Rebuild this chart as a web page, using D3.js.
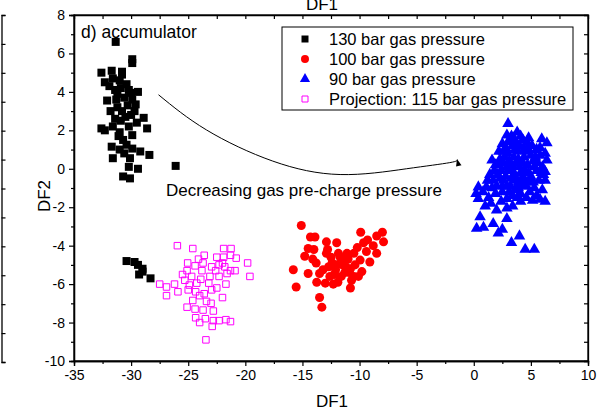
<!DOCTYPE html>
<html>
<head>
<meta charset="utf-8">
<script src="https://cdn.jsdelivr.net/npm/d3@7"></script>
<style>
  body { margin: 0; background: #fff; }
  text { font-family: "Liberation Sans", Arial, sans-serif; fill: #000; }
</style>
</head>
<body>
<script>
// chart data, [DF1, DF2]
const bar130 = [
  [-31.35, 6.6], [-29.9, 5.7], [-29.9, 5.5], [-32.6, 5.0], [-31.7, 5.1], [-30.8, 5.05],
  [-32.3, 4.5], [-31.6, 4.7], [-31.0, 4.6], [-30.8, 4.9], [-31.4, 4.1], [-30.2, 4.1],
  [-29.4, 4.0], [-30.9, 4.2], [-32.1, 3.55], [-31.3, 3.6], [-30.6, 3.7], [-29.9, 3.6],
  [-30.3, 3.3], [-31.8, 3.0], [-30.8, 3.0], [-29.7, 3.0], [-31.2, 3.2], [-30.0, 2.8],
  [-28.9, 2.65], [-32.6, 2.1], [-31.6, 2.2], [-30.9, 2.5], [-30.2, 2.2], [-29.5, 2.4],
  [-28.6, 2.1], [-31.1, 1.7], [-29.9, 1.75], [-30.7, 1.5], [-31.7, 1.15], [-31.0, 1.0],
  [-29.9, 1.05], [-29.2, 0.9], [-28.4, 0.72], [-31.6, 0.55], [-30.1, 0.55], [-30.2, 0.1],
  [-29.4, 0.0], [-30.7, -0.4], [-30.1, -0.5], [-26.1, 0.15], [-31.2, 3.9], [-30.5, 2.7],
  [-31.4, 2.6], [-30.4, 4.4], [-31.9, 4.3], [-30.0, 3.95], [-31.0, 1.9], [-30.4, 1.25],
  [-29.6, 3.35], [-32.3, 2.0], [-30.6, 0.8],
  [-30.4, -4.8], [-29.7, -4.85], [-29.4, -5.0], [-29.0, -5.2], [-29.3, -5.5], [-28.3, -5.7],
  [-29.0, -5.35]
]

const bar100 = [
  [-15.1, -2.95], [-14.3, -3.55], [-13.9, -3.55], [-9.9, -3.3], [-8.5, -3.5], [-12.9, -3.8],
  [-12.0, -3.85], [-9.65, -3.85], [-14.5, -4.15], [-8.8, -4.0], [-14.8, -4.55], [-14.1, -4.7],
  [-12.9, -4.4], [-11.85, -4.4], [-10.5, -4.4], [-9.4, -4.3], [-8.5, -4.4], [-12.4, -4.9],
  [-11.4, -4.85], [-9.95, -4.75], [-9.1, -4.85], [-13.2, -5.25], [-12.1, -5.25], [-10.8, -5.2],
  [-9.8, -5.35], [-15.8, -5.25], [-14.5, -5.45], [-13.5, -5.45], [-12.6, -5.6], [-11.6, -5.6],
  [-10.5, -5.6], [-13.75, -5.9], [-13.0, -5.95], [-10.7, -5.8], [-10.1, -5.6], [-15.55, -6.15],
  [-10.8, -6.2], [-13.5, -6.7], [-13.3, -7.2], [-8.0, -3.3], [-7.9, -3.8], [-12.0, -5.0],
  [-11.2, -5.1], [-12.5, -4.6], [-11.0, -4.7], [-11.9, -5.9], [-12.3, -6.0], [-11.3, -5.4],
  [-13.8, -4.9], [-10.2, -4.1], [-11.7, -4.6], [-12.2, -5.5], [-11.5, -5.0], [-10.9, -5.4],
  [-12.7, -5.1], [-11.1, -4.4], [-12.8, -4.2], [-10.4, -5.0], [-9.3, -3.7], [-14.0, -4.2]
]

const bar90 = [
  [3.0, 2.35], [3.8, 1.9], [2.9, 1.75], [5.95, 1.55], [4.65, 1.4], [6.4, 1.35], [1.6, 0.45],
  [6.25, 0.8], [6.4, 0.45], [6.25, -0.15], [6.25, -0.6], [2.3, -0.5], [1.7, -0.6], [0.4, -0.95],
  [1.1, -0.95], [0.4, -1.55], [1.3, -1.5], [1.9, -1.3], [2.9, -1.55], [3.8, -1.5], [4.1, -1.7],
  [5.15, -1.65], [6.25, -1.7], [1.0, -1.95], [2.0, -2.15], [2.9, -2.05], [3.4, -1.95],
  [0.55, -2.5], [2.9, -2.6], [1.7, -2.85], [0.25, -3.1], [0.85, -3.05], [2.5, -3.15],
  [2.15, -3.35], [4.0, -3.5], [3.3, -3.85], [4.5, -4.2], [5.3, -4.2],
  [2.5, 1.3], [3.2, 1.5], [4.0, 1.2], [4.8, 0.9], [5.5, 1.0], [2.2, 0.9], [3.0, 0.8], [3.6, 1.0],
  [4.4, 0.6], [5.2, 0.4], [5.8, 0.7], [1.9, 0.2], [2.6, 0.3], [3.3, 0.2], [4.0, 0.1], [4.7, 0.2],
  [5.5, -0.1], [6.0, 0.1], [2.1, -0.3], [2.8, -0.4], [3.5, -0.3], [4.2, -0.5], [5.0, -0.4],
  [5.7, -0.6], [2.5, -0.9], [3.2, -0.9], [3.9, -1.0], [4.6, -0.9], [5.3, -1.0], [6.0, -1.1],
  [3.5, 0.6], [4.3, 1.5], [2.8, 1.1], [3.9, 0.5], [4.5, -0.1], [3.0, -0.1], [2.4, -0.1],
  [5.1, 1.2], [3.6, -0.6], [4.9, -0.7], [5.6, 0.3], [3.3, 1.7], [2.0, -0.9], [1.4, -0.3],
  [6.1, -0.3], [4.4, 1.0], [3.7, 1.3], [2.7, 0.6], [5.4, 0.6], [4.1, -1.3], [3.1, -1.2],
  [5.5, -1.4], [1.2, -0.6],
  [3.4, 1.2], [3.9, 0.9], [4.7, 1.1], [2.6, 0.9], [3.1, 0.4], [3.7, 0.3], [4.3, 0.3], [5.0, 0.7],
  [2.3, 0.5], [2.9, 0.1], [3.4, -0.1], [4.1, -0.2], [4.8, -0.2], [5.3, 0.1], [2.6, -0.6],
  [3.3, -0.5], [3.9, -0.7], [4.5, -0.6], [5.2, -0.7], [2.9, -0.9], [3.6, -1.1], [4.3, -0.9],
  [4.9, -1.2], [1.8, -0.1], [2.2, 0.2], [5.9, -0.2], [5.8, 1.1], [3.5, 1.6], [4.1, 1.7],
  [2.5, -1.2], [0.8, -1.2], [1.6, -1.0], [3.4, -1.4], [4.6, -1.5], [0.2, -1.3], [1.5, -1.8],
  [2.4, -1.7], [5.8, -1.6], [3.0, 1.4], [4.8, 1.6]
]

const proj115 = [
  [-25.95, -4.0], [-24.6, -4.15], [-23.6, -4.5], [-21.9, -4.15], [-21.25, -4.15], [-21.3, -4.5],
  [-20.8, -4.65], [-19.8, -4.9], [-22.0, -4.9], [-25.05, -4.9], [-24.4, -5.05], [-23.7, -4.9],
  [-22.95, -5.1], [-21.8, -5.1], [-21.3, -5.3], [-20.9, -5.3], [-25.1, -5.3], [-23.8, -5.3],
  [-21.6, -5.45], [-19.6, -5.6], [-24.7, -5.6], [-23.9, -5.75], [-23.1, -5.6], [-22.3, -5.6],
  [-25.3, -5.8], [-24.25, -5.95], [-23.2, -5.95], [-27.5, -6.0], [-26.9, -6.15], [-26.2, -6.0],
  [-21.7, -6.0], [-25.0, -6.3], [-24.35, -6.4], [-23.6, -6.5], [-22.95, -6.3], [-25.9, -6.4],
  [-26.9, -6.6], [-24.6, -6.85], [-23.4, -6.9], [-22.0, -6.7], [-25.1, -7.2], [-24.4, -7.3],
  [-23.7, -7.35], [-22.8, -7.4], [-24.35, -7.75], [-23.5, -7.8], [-22.8, -7.9], [-22.3, -7.9],
  [-21.7, -7.85], [-21.3, -7.95], [-24.0, -8.0], [-22.9, -8.2], [-23.45, -8.9], [-22.5, -4.6],
  [-22.6, -5.3], [-24.1, -4.7], [-25.5, -5.5], [-24.9, -6.05], [-22.5, -6.2], [-23.0, -7.0],
  [-24.0, -6.6], [-21.9, -4.6], [-22.3, -5.0]
]

const legendLabels = ['130 bar gas pressure', '100 bar gas pressure', '90 bar gas pressure', 'Projection: 115 bar gas pressure']
const xTicks = [-35, -30, -25, -20, -15, -10, -5, 0, 5, 10]
const yTicks = [-10, -8, -6, -4, -2, 0, 2, 4, 6, 8]
// arrow path, in data units
const arrowPts = [[-27.6, 3.85], [-23.4, 2.02], [-17.6, 0.4], [-11.7, -0.3], [-5.9, 0.0], [-2.1, 0.32], [-1.45, 0.47]]

const width = 598
const height = 411
const margin = {top: 15, right: 10, bottom: 50, left: 74}

const x = d3.scaleLinear().domain([-35, 10]).range([margin.left, width - margin.right])
const y = d3.scaleLinear().domain([-10, 8]).range([height - margin.bottom, margin.top])

const svg = d3.select('body').append('svg')
    .attr('width', width)
    .attr('height', height)

const fmt = (d) => String(d)
const x0 = margin.left, x1 = width - margin.right
const y0 = height - margin.bottom, y1 = margin.top

// piece of the neighbouring panel's axis at the left edge
const edge = d3.scaleLinear().domain([0, 12]).range([y0 + 1, y1])
svg.append('g')
    .attr('transform', 'translate(1.5,0)')
    .call(d3.axisRight(edge).ticks(12).tickSize(4).tickFormat(''))

// top label from panel above (cut off there too)
svg.append('text')
    .attr('x', 322).attr('y', 10)
    .attr('text-anchor', 'middle')
    .style('font-size', '17px')
    .text('DF1')

// frame
svg.append('rect')
    .attr('x', x0).attr('y', y1)
    .attr('width', x1 - x0).attr('height', y0 - y1)
    .attr('fill', 'none').attr('stroke', '#000').attr('stroke-width', 1.3)

// bottom axis
const xMinor = d3.range(-32.5, 10, 5)
svg.append('g')
    .attr('class', 'axis')
    .attr('transform', `translate(0,${y0})`)
    .call(d3.axisBottom(x).tickValues(xTicks).tickSize(5).tickPadding(4).tickFormat(fmt))
svg.append('g')
    .attr('transform', `translate(0,${y0})`)
    .call(d3.axisBottom(x).tickValues(xMinor).tickSize(3).tickFormat(''))

// left axis
const yMinor = d3.range(-9, 8, 2)
svg.append('g')
    .attr('class', 'axis')
    .attr('transform', `translate(${x0},0)`)
    .call(d3.axisLeft(y).tickValues(yTicks).tickSize(5).tickPadding(4).tickFormat(fmt))
svg.append('g')
    .attr('transform', `translate(${x0},0)`)
    .call(d3.axisLeft(y).tickValues(yMinor).tickSize(3).tickFormat(''))

// top axis, ticks pointing in
svg.append('g')
    .attr('transform', `translate(0,${y1})`)
    .call(d3.axisBottom(x).tickValues(d3.range(-32.5, 10, 2.5)).tickSize(4).tickFormat(''))

// right axis, ticks pointing in
svg.append('g')
    .attr('transform', `translate(${x1},0)`)
    .call(d3.axisLeft(y).tickValues(d3.range(-9, 8, 1)).tickSize(4).tickFormat(''))

svg.selectAll('.domain').attr('stroke', '#000').attr('stroke-width', 1.3)
svg.selectAll('.tick line').attr('stroke', '#000').attr('stroke-width', 1.2)
svg.selectAll('.axis text').style('font-size', '14px').attr('fill', '#000')

// axis titles
svg.append('text')
    .attr('x', 332).attr('y', 407)
    .attr('text-anchor', 'middle')
    .style('font-size', '17px')
    .text('DF1')

svg.append('text')
    .attr('transform', 'translate(50,196) rotate(-90)')
    .attr('text-anchor', 'middle')
    .style('font-size', '17px')
    .text('DF2')

svg.append('text')
    .attr('x', 81).attr('y', 38)
    .style('font-size', '17.5px')
    .text('d) accumulator')

// arrow
svg.append('defs').append('marker')
    .attr('id', 'head')
    .attr('viewBox', '0 0 10 10')
    .attr('refX', 9).attr('refY', 5)
    .attr('markerWidth', 13).attr('markerHeight', 7)
    .attr('markerUnits', 'userSpaceOnUse')
    .attr('orient', 'auto')
  .append('path')
    .attr('d', 'M0,1L10,5L0,9Z')
    .attr('fill', '#000')

const arrowLine = d3.line()
    .x((d) => x(d[0]))
    .y((d) => y(d[1]))
    .curve(d3.curveNatural)

svg.append('path')
    .datum(arrowPts)
    .attr('d', arrowLine)
    .attr('fill', 'none')
    .attr('stroke', '#000')
    .attr('stroke-width', 1)
    .attr('marker-end', 'url(#head)')

svg.append('text')
    .attr('x', 166).attr('y', 196)
    .style('font-size', '17px')
    .text('Decreasing gas pre-charge pressure')

// scatter
const sq = d3.symbol().type(d3.symbolSquare).size(64)
const circ = d3.symbol().type(d3.symbolCircle).size(64)
const tri = d3.symbol().type(d3.symbolTriangle).size(58)
const osq = d3.symbol().type(d3.symbolSquare).size(42)

svg.append('g').selectAll('path')
  .data(bar130).join('path')
    .attr('transform', (d) => `translate(${x(d[0])},${y(d[1])})`)
    .attr('d', sq)
    .attr('fill', '#000')

svg.append('g').selectAll('path')
  .data(bar100).join('path')
    .attr('transform', (d) => `translate(${x(d[0])},${y(d[1])})`)
    .attr('d', circ)
    .attr('fill', '#ff0000')

svg.append('g').selectAll('path')
  .data(bar90).join('path')
    .attr('transform', (d) => `translate(${x(d[0])},${y(d[1])})`)
    .attr('d', tri)
    .attr('fill', '#0000ff')

svg.append('g').selectAll('path')
  .data(proj115).join('path')
    .attr('transform', (d) => `translate(${x(d[0])},${y(d[1])})`)
    .attr('d', osq)
    .attr('fill', 'none')
    .attr('stroke', '#ff00ff')
    .attr('stroke-width', 1)

// legend
const legend = svg.append('g').attr('transform', 'translate(282,27)')
legend.append('rect')
    .attr('width', 291).attr('height', 83)
    .attr('fill', '#fff').attr('stroke', '#000').attr('stroke-width', 1)

const legendSym = [
  {d: d3.symbol().type(d3.symbolSquare).size(49)(), fill: '#000', stroke: 'none'},
  {d: d3.symbol().type(d3.symbolCircle).size(50)(), fill: '#ff0000', stroke: 'none'},
  {d: d3.symbol().type(d3.symbolTriangle).size(45)(), fill: '#0000ff', stroke: 'none'},
  {d: d3.symbol().type(d3.symbolSquare).size(36)(), fill: 'none', stroke: '#ff00ff'}
]

const rows = legend.selectAll('g.row')
  .data(legendLabels).join('g')
    .attr('class', 'row')
    .attr('transform', (d, i) => `translate(0,${12 + i * 20})`)

rows.append('path')
    .attr('transform', 'translate(23,0)')
    .attr('d', (d, i) => legendSym[i].d)
    .attr('fill', (d, i) => legendSym[i].fill)
    .attr('stroke', (d, i) => legendSym[i].stroke)

rows.append('text')
    .attr('x', 47).attr('y', 6)
    .style('font-size', '16.5px')
    .text((d) => d)
</script>
</body>
</html>
